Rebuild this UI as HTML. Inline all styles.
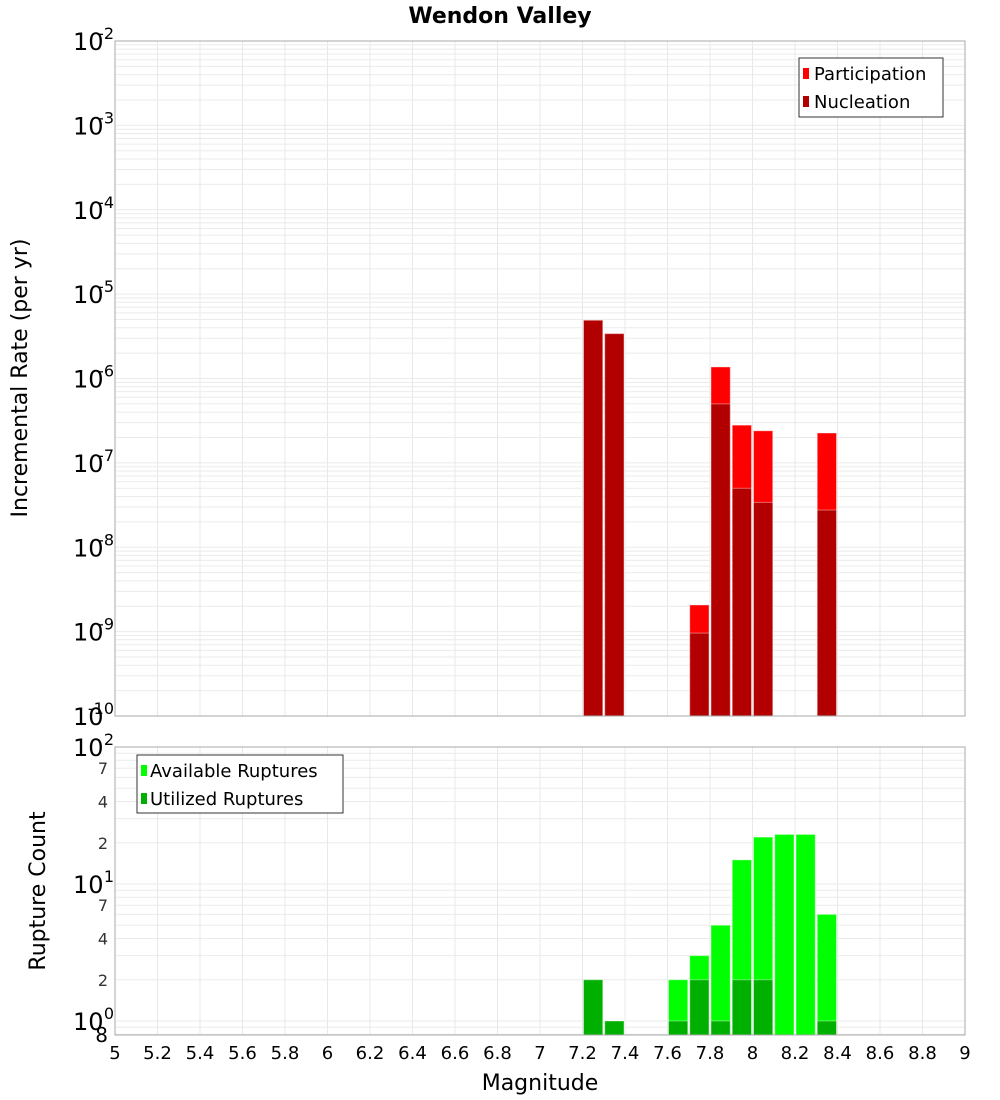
<!DOCTYPE html>
<html><head><meta charset="utf-8"><style>
html,body{margin:0;padding:0;background:#fff;}
svg{display:block;font-family:"DejaVu Sans","Liberation Sans",sans-serif;}
</style></head><body>
<svg id="chart" width="1000" height="1100" xmlns="http://www.w3.org/2000/svg">
<text x="500" y="23" text-anchor="middle" font-size="22" font-weight="bold">Wendon Valley</text>
<g id="grid1"></g>
<g id="grid2"></g>
<g id="bars1"></g>
<g id="bars2"></g>
<rect x="115" y="41" width="850" height="675" fill="none" stroke="#aaa" stroke-width="1"/>
<rect x="115" y="747" width="850" height="288" fill="none" stroke="#aaa" stroke-width="1"/>
<g id="yticks1"></g>
<g id="yticks2"></g>
<g id="xticks"></g>
<text x="540" y="1090" text-anchor="middle" font-size="22">Magnitude</text>
<text transform="translate(27,378) rotate(-90)" text-anchor="middle" font-size="22">Incremental Rate (per yr)</text>
<text transform="translate(45,891) rotate(-90)" text-anchor="middle" font-size="22">Rupture Count</text>
<g>
<rect x="799" y="58" width="144" height="59" fill="#fff" stroke="#333"/>
<rect x="803" y="68" width="6" height="11" fill="#ff0000"/>
<text x="814" y="80" font-size="18">Participation</text>
<rect x="803" y="96" width="6" height="11" fill="#b20000"/>
<text x="814" y="108" font-size="18">Nucleation</text>
</g>
<g>
<rect x="137" y="755" width="206" height="58" fill="#fff" stroke="#333"/>
<rect x="141" y="765" width="6" height="11" fill="#00ff00"/>
<text x="150" y="777" font-size="18">Available Ruptures</text>
<rect x="141" y="793" width="6" height="11" fill="#00b000"/>
<text x="150" y="805" font-size="18">Utilized Ruptures</text>
</g>
</svg>
<script>
const rateBins = [7.25, 7.35, 7.75, 7.85, 7.95, 8.05, 8.35];
const participation = [4.9e-6, 3.4e-6, 2.07e-9, 1.37e-6, 2.8e-7, 2.4e-7, 2.26e-7];
const nucleation = [4.9e-6, 3.4e-6, 9.6e-10, 5.0e-7, 5.0e-8, 3.4e-8, 2.76e-8];
const countBins = [7.25, 7.35, 7.65, 7.75, 7.85, 7.95, 8.05, 8.15, 8.25, 8.35];
const available = [2, 1, 2, 3, 5, 15, 22, 23, 23, 6];
const utilized = [2, 1, 1, 2, 1, 2, 2, 0, 0, 1];
const xTickLabels = ["5","5.2","5.4","5.6","5.8","6","6.2","6.4","6.6","6.8","7","7.2","7.4","7.6","7.8","8","8.2","8.4","8.6","8.8","9"];
const topDecades = [-2,-3,-4,-5,-6,-7,-8,-9,-10];
const bottomMinorLabels = ["2","4","7"];

const NS = "http://www.w3.org/2000/svg";
const X0 = 115, X1 = 965, XMIN = 5, XMAX = 9;
function xs(v){ return X0 + (v - XMIN) / (XMAX - XMIN) * (X1 - X0); }
const T0 = 41, T1 = 716, TMAX = -2, TMIN = -10;
function ys1(v){ return T0 + (TMAX - Math.log10(v)) / (TMAX - TMIN) * (T1 - T0); }
const B0 = 747, BDEC = 137;
function ys2(v){ return B0 + (2 - Math.log10(v)) * BDEC; }
const B1 = 1035;
function mk(tag, attrs, parent){ const e = document.createElementNS(NS, tag); for (const k in attrs) e.setAttribute(k, attrs[k]); parent.appendChild(e); return e; }

const g1 = document.getElementById('grid1'), g2 = document.getElementById('grid2');
xTickLabels.forEach(function(t){
  const x = xs(parseFloat(t));
  const l1 = mk('line', {x1:x, x2:x, y1:T0, y2:T1, stroke:'#e8e8e8', 'stroke-width':1}, g1);
  
  
  const l2 = mk('line', {x1:x, x2:x, y1:B0, y2:B1, stroke:'#e8e8e8', 'stroke-width':1}, g2);
  
  
});
for (let d = -10; d < -2; d++) {
  for (let m = 1; m < 10; m++) {
    const y = ys1(m * Math.pow(10, d));
    const l = mk('line', {x1:X0, x2:X1, y1:y, y2:y, stroke:'#ebebeb', 'stroke-width':1}, g1);
    
    
  }
}
for (let d = -1; d < 2; d++) {
  for (let m = 1; m < 10; m++) {
    const v = m * Math.pow(10, d);
    const y = ys2(v);
    if (y < B0 - 0.5 || y > B1) continue;
    const l = mk('line', {x1:X0, x2:X1, y1:y, y2:y, stroke:'#ebebeb', 'stroke-width':1}, g2);
    
    
  }
}

const b1 = document.getElementById('bars1');
function bar(parent, c, top, bottom, fill, name){
  const xa = xs(c - 0.05) + 1, xb = xs(c + 0.05) - 1;
  const r = mk('rect', {x:xa, y:top, width:xb - xa, height:bottom - top, fill:fill, stroke:'#fff', 'stroke-opacity':0.4, 'stroke-width':1}, parent);
  
  
}
rateBins.forEach(function(c, i){
  bar(b1, c, ys1(participation[i]), T1, '#ff0000', 'participation-bar');
  bar(b1, c, ys1(nucleation[i]), T1, '#b20000', 'nucleation-bar');
});
const b2 = document.getElementById('bars2');
countBins.forEach(function(c, i){
  if (available[i] > 0) bar(b2, c, ys2(available[i]), B1, '#00ff00', 'available-bar');
  if (utilized[i] > 0) bar(b2, c, ys2(utilized[i]), B1, '#00b000', 'utilized-bar');
});

const xt = document.getElementById('xticks');
xTickLabels.forEach(function(t){
  const tx = mk('text', {x:xs(parseFloat(t)), y:1059, 'text-anchor':'middle', 'font-size':18}, xt);
  tx.textContent = t;
  
  
});

const yt1 = document.getElementById('yticks1');
function decLabel(parent, y, exp){
  const a = mk('text', {x:73, y:y + 9, 'font-size':24}, parent);
  a.textContent = '10';
  
  
  const s = mk('text', {x:114, y:y - 2, 'text-anchor':'end', 'font-size':16}, parent);
  s.textContent = String(exp);
  
  
}
topDecades.forEach(function(d){ decLabel(yt1, ys1(Math.pow(10, d)), d); });
const yt2 = document.getElementById('yticks2');
[2, 1, 0].forEach(function(d){ decLabel(yt2, ys2(Math.pow(10, d)), d); });
[1, 10].forEach(function(base){
  bottomMinorLabels.forEach(function(t){
    const tx = mk('text', {x:108, y:ys2(parseFloat(t) * base) + 6, 'text-anchor':'end', 'font-size':16, fill:'#333'}, yt2);
    tx.textContent = t;
    
    
  });
});
const e8 = mk('text', {x:108, y:1042, 'text-anchor':'end', 'font-size':20}, yt2);
e8.textContent = '8';


</script>
</body></html>
